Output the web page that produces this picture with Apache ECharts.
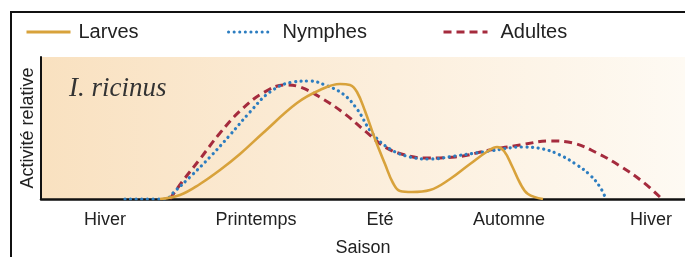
<!DOCTYPE html>
<html>
<head>
<meta charset="utf-8">
<script src="https://cdn.jsdelivr.net/npm/echarts@6/dist/echarts.min.js"></script>
<style>
html,body{margin:0;padding:0;background:#fff;}
#c{width:685px;height:257px;}
</style>
</head>
<body>
<div id="c"></div>
<script>
// Season positions (x) and relative activity (y)
const seasonTickPositions = [105, 256, 380, 509, 651];
const seasonTickLabels = ['Hiver', 'Printemps', 'Eté', 'Automne', 'Hiver'];
const seriesNames = ['Larves', 'Nymphes', 'Adultes'];

const larves = [[160,0],[180,4],[200,15],[220,29],[240,45],[263,66],[297,96],[320,109],[340,115],[350,114],[357,107],[365,88],[375,60],[385,35],[393,16],[400,8],[412,7],[430,9],[450,20],[470,35],[488,48],[497,52],[504,48],[512,33],[520,16],[528,5],[543,0]];
const nymphes = [[125,0],[165,0],[175,8],[190,22],[210,42],[230,64],[250,87],[270,107],[293,117],[310,118],[325,114],[343,105],[357,90],[372,66],[390,50],[410,42],[430,40],[455,43],[490,48],[523,52],[543,50],[560,44],[577,34],[590,24],[600,12],[606,0]];
const adultes = [[170,0],[182,17],[200,40],[220,66],[240,88],[263,106],[285,114],[300,112],[323,100],[345,85],[365,68],[385,52],[405,44],[425,41],[455,42],[490,49],[520,54],[550,58],[573,56],[597,46],[620,33],[643,17],[662,0]];

const chart = echarts.init(document.getElementById('c'), null, {renderer: 'canvas'});
const fontFam = '"Liberation Sans", Arial, sans-serif';
function legendFor(name, left, pad) {
  return {
    data: [name], left: left, top: 17, itemWidth: 44, itemHeight: 14,
    selectedMode: false,
    itemStyle: {opacity: 0},
    lineStyle: {width: 3},
    textStyle: {fontFamily: fontFam, fontSize: 20, color: '#222', padding: [0,0,0,pad]}
  };
}
chart.setOption({
  animation: false,
  backgroundColor: '#fff',
  title: {
    text: 'I. ricinus', left: 64, top: 70,
    textStyle: {fontFamily: '"Liberation Serif", serif', fontStyle: 'italic', fontWeight: 'normal', fontSize: 27, color: '#333'}
  },
  legend: [legendFor(seriesNames[0], 20, 3), legendFor(seriesNames[1], 222, 5), legendFor(seriesNames[2], 437, 8)],
  graphic: [{
    type: 'rect', shape: {x: 11, y: 12, width: 800, height: 400},
    style: {fill: 'none', stroke: '#111', lineWidth: 2}, silent: true, z: 100
  }],
  grid: {
    left: 41, right: 0, top: 57, bottom: 58, show: true, borderWidth: 0,
    outerBoundsMode: 'none', containLabel: false,
    backgroundColor: {type: 'linear', x: 0, y: 0, x2: 1, y2: 0,
      colorStops: [{offset: 0, color: '#f9e1c0'}, {offset: 0.55, color: '#fcefdd'}, {offset: 1, color: '#fefaf3'}]}
  },
  xAxis: {
    type: 'value', min: 41, max: 685,
    name: 'Saison', nameLocation: 'middle', nameGap: 40,
    nameTextStyle: {fontFamily: fontFam, fontSize: 18, color: '#222'},
    axisLine: {lineStyle: {color: '#111', width: 2.5}},
    axisTick: {show: false},
    splitLine: {show: false},
    axisLabel: {
      customValues: seasonTickPositions,
      formatter: function (v) { const i = seasonTickPositions.indexOf(v); return i >= 0 ? seasonTickLabels[i] : ''; },
      fontFamily: fontFam, fontSize: 18, color: '#222', margin: 12
    }
  },
  yAxis: {
    type: 'value', min: 0, max: 142,
    name: 'Activité relative', nameLocation: 'middle', nameGap: 4, nameRotate: 90,
    nameTextStyle: {fontFamily: fontFam, fontSize: 18, color: '#222'},
    axisLine: {show: true, lineStyle: {color: '#111', width: 2}},
    axisTick: {show: false}, axisLabel: {show: false}, splitLine: {show: false}
  },
  series: [
    {name: seriesNames[0], type: 'line', data: larves, smooth: 0.4, symbol: 'none',
     lineStyle: {color: '#d8a23b', width: 2.6}, itemStyle: {color: '#d8a23b'}, z: 3},
    {name: seriesNames[1], type: 'line', data: nymphes, smooth: 0.4, symbol: 'none',
     lineStyle: {color: '#2c7dc0', width: 3.2, type: [0.1, 5.5], cap: 'round'}, itemStyle: {color: '#2c7dc0'}, z: 2},
    {name: seriesNames[2], type: 'line', data: adultes, smooth: 0.4, symbol: 'none',
     lineStyle: {color: '#a52b3d', width: 3, type: [8, 5]}, itemStyle: {color: '#a52b3d'}, z: 1}
  ]
});
</script>
</body>
</html>
